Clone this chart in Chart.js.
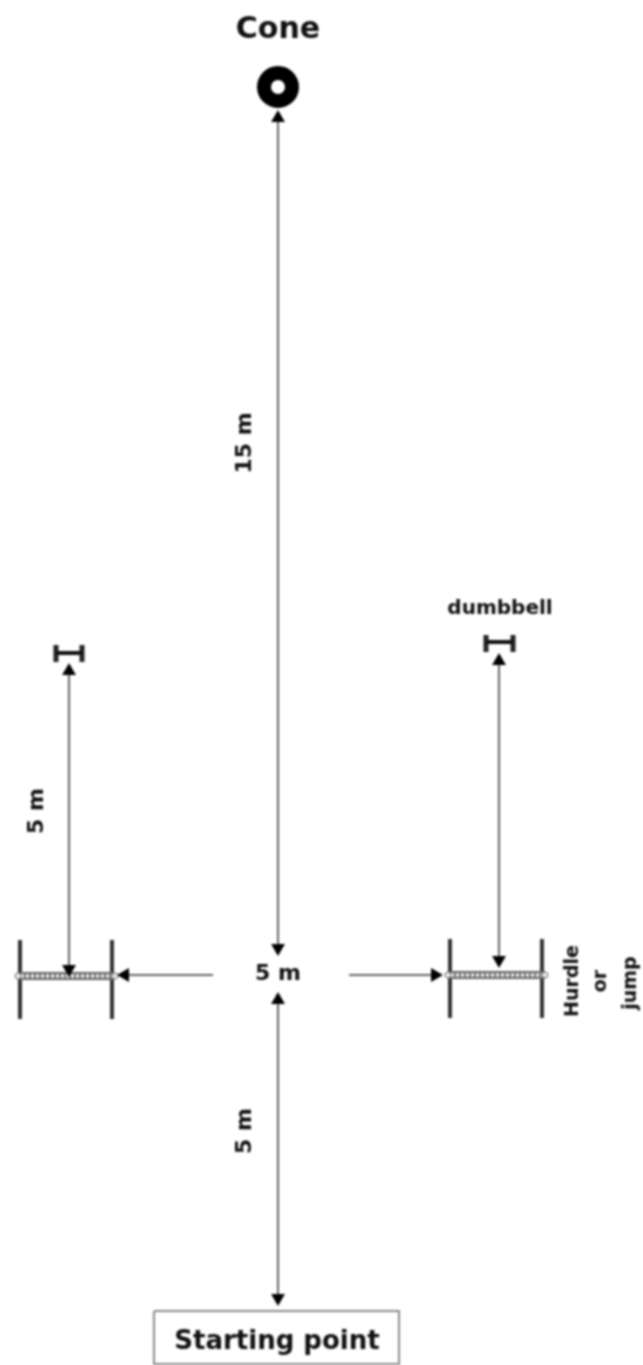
<!DOCTYPE html>
<html>
<head>
<meta charset="utf-8">
<title>Cone, hurdle and dumbbell course</title>
<script src="https://cdn.jsdelivr.net/npm/chart.js@4"></script>
<style>
  html, body { margin: 0; padding: 0; background: #fff; }
  canvas { display: block; filter: blur(0.8px); }
</style>
</head>
<body>
<canvas id="course" width="643" height="1365"></canvas>
<script>
// course positions (x runs right, y runs down)
const shafts = [
  [278, 118, 278, 945],
  [278, 1002, 278, 1296],
  [69, 672, 69, 966],
  [499, 662, 499, 958],
  [126, 975, 213, 975],
  [349, 975, 434, 975],
];
const headX = [278, 278, 278, 278, 69, 69, 499, 499, 125, 435];
const headY = [118, 948, 1000, 1298, 671, 969, 661, 960, 975, 975];
const headAngle = [0, 180, 0, 180, 0, 180, 0, 180, 270, 90];

const posts = [
  [20, 940, 20, 1019],
  [112, 940, 112, 1019],
  [450, 939, 450, 1018],
  [542, 939, 542, 1018],
];
const rails = [
  [19, 976, 114, 976],
  [449, 975, 545, 975],
];
const railEndX = [18, 115, 448, 545];
const railEndY = [976, 976, 975, 975];

const dumbbellBars = [
  [56, 653, 82, 653],
  [486, 642, 513, 642],
];
const dumbbellEnds = [
  [56, 645, 56, 662],
  [82, 645, 82, 662],
  [486, 635, 486, 652],
  [513, 635, 513, 652],
];

const coneX = [278];
const coneY = [87];

const boxX = [154, 399, 399, 154, 154];
const boxY = [1311, 1311, 1364, 1364, 1311];

const labelText = ["Cone", "15 m", "5 m", "5 m", "5 m", "dumbbell", "Hurdle", "or", "jump", "Starting point"];
const labelX = [278, 245, 37, 278, 245, 500, 573, 601, 631, 277];
const labelY = [30, 443, 811, 974, 1131, 609, 981, 981, 983, 1342];
const labelAngle = [0, -90, -90, 0, -90, 0, -90, -90, -90, 0];
const labelFont = [
  "700 30px 'DejaVu Sans'", "700 22px 'DejaVu Sans'", "700 22px 'DejaVu Sans'", "700 22px 'DejaVu Sans'", "700 22px 'DejaVu Sans'",
  "700 20px 'DejaVu Sans'", "700 19px 'DejaVu Sans'", "700 19px 'DejaVu Sans'", "700 19px 'DejaVu Sans'", "700 26px 'DejaVu Sans'",
];

function segments(list, color, width, dash)
{
  return list.map((s) => ({
    data: [{x: s[0], y: s[1]}, {x: s[2], y: s[3]}],
    showLine: true,
    borderColor: color,
    borderWidth: width,
    borderDash: dash || [],
    pointRadius: 0,
  }));
}

function points(xs, ys)
{
  return xs.map((x, i) => ({x: x, y: ys[i]}));
}

const courseLabels = {
  id: "courseLabels",
  afterDatasetsDraw(chart)
  {
    const ctx = chart.ctx;
    const xScale = chart.scales.x;
    const yScale = chart.scales.y;
    labelText.forEach((text, i) => {
      ctx.save();
      ctx.translate(xScale.getPixelForValue(labelX[i]), yScale.getPixelForValue(labelY[i]));
      ctx.rotate(labelAngle[i] * Math.PI / 180);
      ctx.font = labelFont[i];
      ctx.fillStyle = "#111";
      ctx.textAlign = "center";
      ctx.textBaseline = "middle";
      ctx.fillText(text, 0, 0);
      ctx.restore();
    });
  },
};

// chart.js paints the first dataset last, so the top layers come first here
new Chart(document.getElementById("course"), {
  type: "scatter",
  data: {
    datasets: [
      {
        data: points(headX, headY),
        pointStyle: "triangle",
        pointRadius: 8,
        pointRotation: headAngle,
        backgroundColor: "#000",
        borderColor: "#000",
        borderWidth: 0,
      },
      ...segments(shafts, "#666", 2),
      {
        data: points(railEndX, railEndY),
        pointRadius: 3,
        backgroundColor: "#eee",
        borderColor: "#666",
        borderWidth: 1,
      },
      ...segments(rails, "#777", 4, [2, 3]),
      ...segments(rails, "#e4e4e4", 4),
      ...segments(rails, "#666", 8),
      ...segments(posts, "#333", 4),
      ...segments(dumbbellBars, "#111", 4),
      ...segments(dumbbellEnds, "#222", 5),
      {
        data: points(coneX, coneY),
        pointRadius: 14,
        backgroundColor: "#fff",
        borderColor: "#000",
        borderWidth: 14,
      },
      {
        data: points(boxX, boxY),
        showLine: true,
        borderColor: "#8a8a8a",
        borderWidth: 2,
        pointRadius: 0,
      },
    ],
  },
  options: {
    responsive: false,
    animation: false,
    events: [],
    layout: {padding: 0, autoPadding: false},
    plugins: {legend: {display: false}, tooltip: {enabled: false}},
    scales: {
      x: {type: "linear", min: 0, max: 643, display: false},
      y: {type: "linear", min: 0, max: 1365, reverse: true, display: false},
    },
  },
  plugins: [courseLabels],
});
</script>
</body>
</html>
